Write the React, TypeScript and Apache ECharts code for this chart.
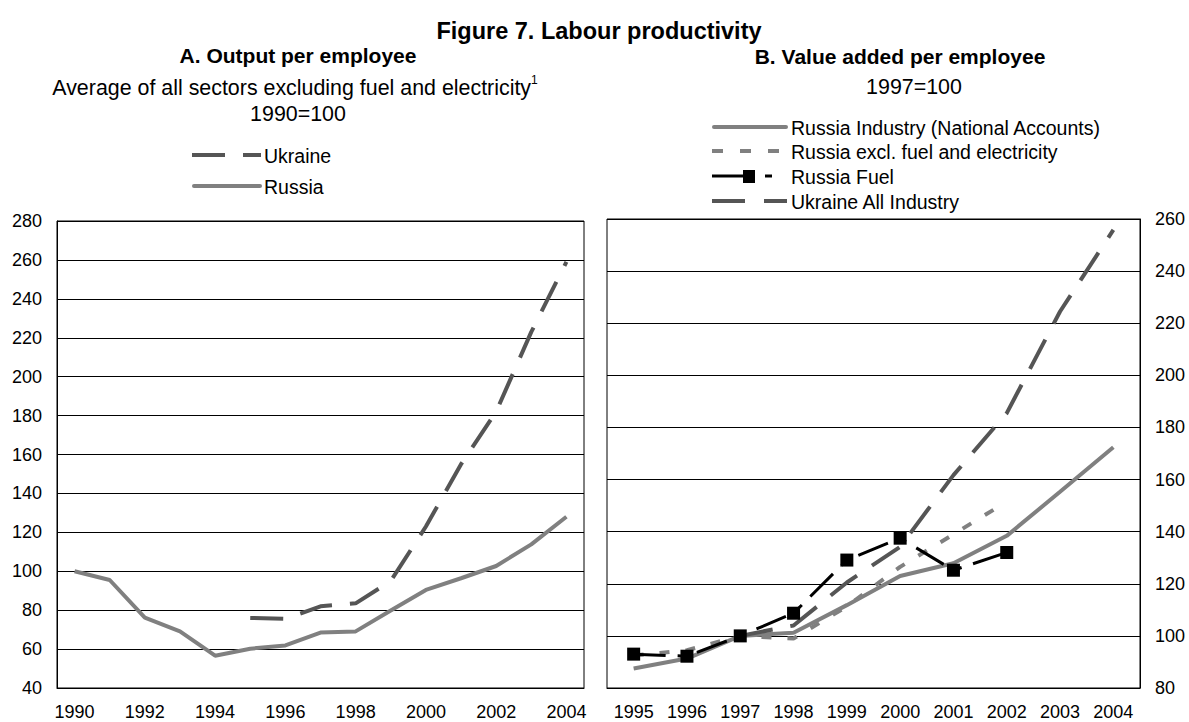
import React, { useEffect, useRef } from "react";
import * as echarts from "echarts";

const leftYears = ["1990","1991","1992","1993","1994","1995","1996","1997","1998","1999","2000","2001","2002","2003","2004"];
const leftUkraine = [null, null, null, null, null, 76, 75.5, 82, 83.5, 95, 123, 155, 182, 223, 259];
const leftRussia = [100, 95.5, 76.2, 69.1, 56.6, 60.2, 61.9, 68.5, 69.1, 79.8, 90.4, 96.4, 102.7, 113.8, 128];

const rightYears = ["1995","1996","1997","1998","1999","2000","2001","2002","2003","2004"];
const rIndustry = [87.5, 91.3, 100, 101.2, 111.8, 123, 127.9, 138.4, 155.3, 172.4];
const rExcl = [92.5, 94.5, 100, 99, 111.3, 126.5, 139, 151.5, null, null];
const rFuel = [93, 92.2, 100, 108.7, 129.1, 137.5, 125.2, 132, null, null];
const rUkraine = [null, null, 100, 104, 120.5, 134.2, 161.7, 185.5, 224.5, 255.8];

const FONT = "'Liberation Sans', Arial, sans-serif";
const UKR_COLOR = "#555555";
const RUS_COLOR = "#808080";
const UKR_DASH = [33, 18];
const EXCL_DASH = [10, 16];
const FUEL_DASH = [32, 12, 8, 12];

export default function App() {
  const ref = useRef<HTMLDivElement>(null);
  useEffect(() => {
    document.body.style.margin = "0";
    const chart = echarts.init(ref.current!, null, { renderer: "svg" });
    const axisText = { color: "#000", fontSize: 18, fontFamily: FONT };

    const legendText = (text: string, x: number, y: number) => ({
      type: "text", x, y,
      style: { text, font: `19.5px ${FONT}`, fill: "#000", align: "left", verticalAlign: "middle" },
    });
    const legendLine = (x1: number, x2: number, y: number, stroke: string, lineWidth: number, lineDash?: number[], cap = "butt") => ({
      type: "line",
      shape: { x1, y1: y, x2, y2: y },
      style: { stroke, lineWidth, lineDash: lineDash || null, lineCap: cap },
    });

    chart.setOption({
      animation: false,
      textStyle: { fontFamily: FONT },
      grid: [
        { left: 57, top: 221, width: 527, height: 467, show: true, borderColor: "#000", borderWidth: 1 },
        { left: 607, top: 219, width: 533, height: 469, show: true, borderColor: "#000", borderWidth: 1 },
      ],
      xAxis: [
        {
          type: "category", gridIndex: 0, data: leftYears, boundaryGap: true,
          axisLine: { lineStyle: { color: "#000", width: 1 } },
          axisTick: { inside: true, length: 6, interval: 0, lineStyle: { color: "#000" } },
          axisLabel: { ...axisText, interval: 1, margin: 15 },
        },
        {
          type: "category", gridIndex: 1, data: rightYears, boundaryGap: true,
          axisLine: { lineStyle: { color: "#000", width: 1 } },
          axisTick: { inside: true, length: 6, interval: 0, lineStyle: { color: "#000" } },
          axisLabel: { ...axisText, interval: 0, margin: 15 },
        },
      ],
      yAxis: [
        {
          type: "value", gridIndex: 0, min: 40, max: 280, interval: 20,
          axisLine: { show: true, lineStyle: { color: "#000" } },
          axisTick: { show: false },
          splitLine: { lineStyle: { color: "#000", width: 1 } },
          axisLabel: { ...axisText, margin: 15 },
        },
        {
          type: "value", gridIndex: 1, position: "right", min: 80, max: 260, interval: 20,
          axisLine: { show: true, lineStyle: { color: "#000" } },
          axisTick: { show: false },
          splitLine: { lineStyle: { color: "#000", width: 1 } },
          axisLabel: { ...axisText, margin: 15 },
        },
      ],
      graphic: [
        { type: "text", x: 599, y: 31, style: { text: "Figure 7. Labour productivity", font: `bold 23.5px ${FONT}`, fill: "#000", align: "center", verticalAlign: "middle" } },
        { type: "text", x: 298, y: 55, style: { text: "A. Output per employee", font: `bold 21px ${FONT}`, fill: "#000", align: "center", verticalAlign: "middle" } },
        {
          type: "text", x: 295, y: 86,
          style: {
            text: "{a|Average of all sectors excluding fuel and electricity}{s|1}",
            align: "center", verticalAlign: "middle", fill: "#000",
            rich: {
              a: { fontSize: 21.4, fontFamily: FONT, lineHeight: 24, fill: "#000", verticalAlign: "bottom" },
              s: { fontSize: 12, fontFamily: FONT, lineHeight: 24, fill: "#000", verticalAlign: "top" },
            },
          },
        },
        { type: "text", x: 298, y: 114, style: { text: "1990=100", font: `21.4px ${FONT}`, fill: "#000", align: "center", verticalAlign: "middle" } },
        { type: "text", x: 900, y: 56, style: { text: "B. Value added per employee", font: `bold 21px ${FONT}`, fill: "#000", align: "center", verticalAlign: "middle" } },
        { type: "text", x: 914, y: 87, style: { text: "1997=100", font: `21.4px ${FONT}`, fill: "#000", align: "center", verticalAlign: "middle" } },

        // Left legend
        legendLine(192, 261, 155, UKR_COLOR, 4, UKR_DASH),
        legendText("Ukraine", 264, 156),
        legendLine(194, 260, 186, RUS_COLOR, 4, undefined, "round"),
        legendText("Russia", 264, 187),

        // Right legend
        legendLine(714, 786, 127, RUS_COLOR, 4, undefined, "round"),
        legendText("Russia Industry (National Accounts)", 791, 128),
        legendLine(712, 787, 151, RUS_COLOR, 4, [11, 17]),
        legendText("Russia excl. fuel and electricity", 791, 152),
        legendLine(712, 744, 176, "#000", 3),
        { type: "rect", shape: { x: 743, y: 170, width: 12, height: 13 }, style: { fill: "#000" } },
        legendLine(765, 772, 176, "#000", 3),
        legendText("Russia Fuel", 791, 177),
        legendLine(712, 787, 201, UKR_COLOR, 4, [33, 19]),
        legendText("Ukraine All Industry", 791, 202),
      ],
      series: [
        {
          name: "Ukraine", type: "line", xAxisIndex: 0, yAxisIndex: 0, data: leftUkraine,
          symbol: "none", lineStyle: { color: UKR_COLOR, width: 4, type: UKR_DASH }, itemStyle: { color: UKR_COLOR },
        },
        {
          name: "Russia", type: "line", xAxisIndex: 0, yAxisIndex: 0, data: leftRussia,
          symbol: "none", lineStyle: { color: RUS_COLOR, width: 4 }, itemStyle: { color: RUS_COLOR },
        },
        {
          name: "Russia Industry (National Accounts)", type: "line", xAxisIndex: 1, yAxisIndex: 1, data: rIndustry,
          symbol: "none", lineStyle: { color: RUS_COLOR, width: 4 }, itemStyle: { color: RUS_COLOR },
        },
        {
          name: "Russia excl. fuel and electricity", type: "line", xAxisIndex: 1, yAxisIndex: 1, data: rExcl,
          symbol: "none", lineStyle: { color: RUS_COLOR, width: 4, type: EXCL_DASH }, itemStyle: { color: RUS_COLOR },
        },
        {
          name: "Ukraine All Industry", type: "line", xAxisIndex: 1, yAxisIndex: 1, data: rUkraine,
          symbol: "none", lineStyle: { color: UKR_COLOR, width: 4, type: UKR_DASH }, itemStyle: { color: UKR_COLOR },
        },
        {
          name: "Russia Fuel", type: "line", xAxisIndex: 1, yAxisIndex: 1, data: rFuel, z: 5,
          symbol: "rect", symbolSize: 13, showAllSymbol: true,
          lineStyle: { color: "#000", width: 3, type: FUEL_DASH }, itemStyle: { color: "#000" },
        },
      ],
    });
    return () => chart.dispose();
  }, []);
  return <div ref={ref} style={{ position: "absolute", left: 0, top: 0, width: 1189, height: 722 }} />;
}
